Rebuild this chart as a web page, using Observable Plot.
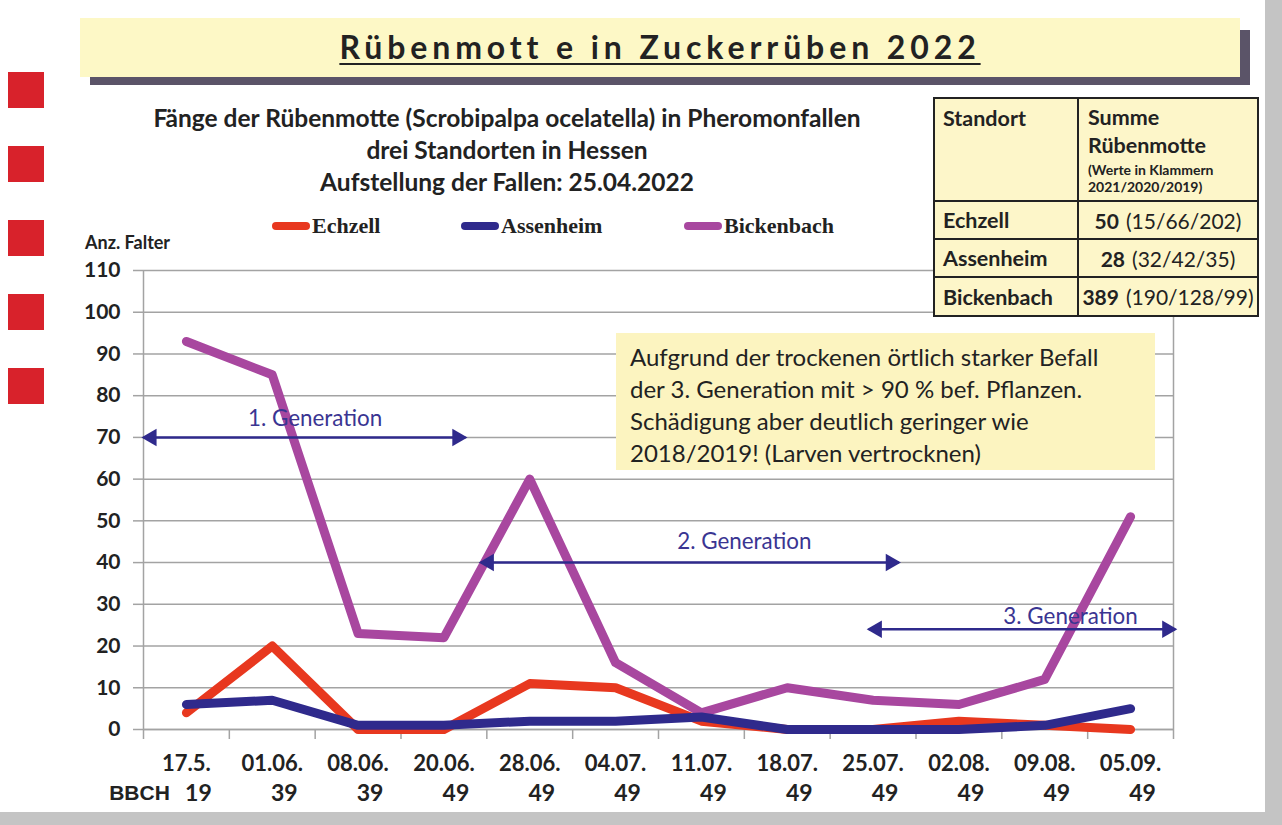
<!DOCTYPE html>
<html><head><meta charset="utf-8">
<script src="https://cdn.jsdelivr.net/npm/d3@7"></script>
<script src="https://cdn.jsdelivr.net/npm/@observablehq/plot@0.6"></script>
<style>
html,body{margin:0;padding:0;background:#fff;}
#page{position:relative;width:1282px;height:825px;overflow:hidden;background:#fff;font-family:Lato,"Open Sans",sans-serif;color:#222;}
#plotwrap{position:absolute;left:0;top:0;}
.abs{position:absolute;}
.sq{position:absolute;left:8px;width:36px;height:36px;background:#d8222b;}
#titleShadow{left:90px;top:30px;width:1160px;height:55px;background:#5b5468;}
#titleBox{left:80px;top:18px;width:1160px;height:59px;background:#fdf8c6;text-align:center;}
#titleBox span{display:inline-block;margin-top:11px;font-weight:700;font-size:32px;line-height:36px;letter-spacing:4.9px;text-decoration:underline;text-decoration-thickness:2px;text-underline-offset:4px;color:#222;}
#subtitle{left:7px;top:102px;width:1000px;text-align:center;font-weight:700;font-size:24.5px;line-height:32px;color:#222;}
#ylabel{left:85px;top:231px;font-weight:700;font-size:18px;color:#222;}
#legend{left:0;top:213px;font-family:"Liberation Serif","Times New Roman",serif;font-weight:700;font-size:22px;color:#222;}
.lg{position:absolute;white-space:nowrap;display:flex;align-items:center;}
.sw{display:inline-block;width:38px;height:8px;border-radius:4px;margin-right:2px;}
#table{left:933px;top:97px;border-collapse:collapse;background:#fdf6c9;color:#222;table-layout:fixed;}
#table td{border:2px solid #222;padding:0 8px;font-size:21.5px;}
#table td b.v{margin-right:7px;}
#note{left:616px;top:333px;width:539px;height:137px;background:#fcf4c0;font-size:24px;line-height:32px;color:#222;box-sizing:border-box;padding:8px 0 0 14px;white-space:nowrap;}
#frameR{right:0;top:0;width:17px;height:825px;background:#c4c4c4;}
#frameB{left:0;bottom:0;width:1282px;height:13px;background:#c4c4c4;}
</style></head>
<body>
<div id="page">
  <div id="plotwrap"></div>
  <div class="sq" style="top:72px"></div>
  <div class="sq" style="top:146px"></div>
  <div class="sq" style="top:220px"></div>
  <div class="sq" style="top:294px"></div>
  <div class="sq" style="top:368px"></div>
  <div id="titleShadow" class="abs"></div>
  <div id="titleBox" class="abs"><span>Rübenmott e in Zuckerrüben 2022</span></div>
  <div id="subtitle" class="abs">Fänge der Rübenmotte (Scrobipalpa ocelatella) in Pheromonfallen<br>drei Standorten in Hessen<br>Aufstellung der Fallen: 25.04.2022</div>
  <div id="ylabel" class="abs">Anz. Falter</div>
  <div id="legend" class="abs"></div>
  <table id="table" class="abs"></table>
  <div id="note" class="abs">Aufgrund der trockenen örtlich starker Befall<br>der 3. Generation mit &gt; 90 % bef. Pflanzen.<br>Schädigung aber deutlich geringer wie<br>2018/2019! (Larven vertrocknen)</div>
  <div id="frameR" class="abs"></div>
  <div id="frameB" class="abs"></div>
</div>
<script>
// ---- data ----
const dates = ["17.5.","01.06.","08.06.","20.06.","28.06.","04.07.","11.07.","18.07.","25.07.","02.08.","09.08.","05.09."];
const bbch = [19,39,39,49,49,49,49,49,49,49,49,49];
const echzell    = [4,20,0,0,11,10,2,0,0,2,1,0];
const assenheim  = [6,7,1,1,2,2,3,0,0,0,1,5];
const bickenbach = [93,85,23,22,60,16,4,10,7,6,12,51];
const seriesNames = ["Echzell","Assenheim","Bickenbach"];
const seriesColors = ["#e8381f","#2f2a8c","#a8479f"];
const yTicks = [0,10,20,30,40,50,60,70,80,90,100,110];
const generations = ["1. Generation","2. Generation","3. Generation"];
const genFrom = [-0.5,3.43,7.95];
const genTo = [3.25,8.30,11.52];
const genLevel = [70,40,24];
const genLabelAt = [1.5,6.5,10.3];
const genLabelLevel = [74.5,45,27];
const sums = [50,28,389];
const earlier = ["15/66/202","32/42/35","190/128/99"];

// ---- table ----
const tbl = document.getElementById("table");
let html = `<colgroup><col style="width:144px"><col style="width:180px"></colgroup>
<tr style="height:103px"><td style="vertical-align:top;padding-top:6px;font-weight:700">Standort</td>
<td style="vertical-align:top;padding-top:4px;padding-left:9px;line-height:28px"><b>Summe<br>Rübenmotte</b><div style="font-size:14px;font-weight:700;line-height:17px;margin-top:2px;white-space:nowrap">(Werte in Klammern<br>2021/2020/2019)</div></td></tr>`;
seriesNames.forEach((n,i)=>{
  html += `<tr style="height:${i==2?39:38}px"><td style="font-weight:700;white-space:nowrap">${n}</td><td style="text-align:center;white-space:nowrap;padding:0 1px;font-size:21px"><b class="v">${sums[i]}</b>(${earlier[i]})</td></tr>`;
});
tbl.innerHTML = html;

// ---- legend ----
const lg = document.getElementById("legend");
const lgX = [272,461,684];
seriesNames.forEach((n,i)=>{
  const d = document.createElement("div");
  d.className="lg"; d.style.left=lgX[i]+"px"; d.style.top="0px";
  d.innerHTML = `<span class="sw" style="background:${seriesColors[i]}"></span>${n}`;
  lg.appendChild(d);
});

// ---- plot ----
const rows = [];
[echzell,assenheim,bickenbach].forEach((arr,s)=>arr.forEach((v,i)=>rows.push({series:seriesNames[s],i,value:v})));
const gens = generations.map((g,k)=>({name:g,from:genFrom[k],to:genTo[k],y:genLevel[k],lx:genLabelAt[k],ly:genLabelLevel[k]}));
const bounds = d3.range(13).map(k=>k-0.5);
const grid = "#a3a3a3";
const arrowCol = "#2f2a8c";
const arial = "'Liberation Sans', Arial, sans-serif";

const chart = Plot.plot({
  width:1282, height:825,
  marginLeft:143, marginRight:109, marginTop:270, marginBottom:96,
  style:{fontFamily:"Lato, 'Open Sans', sans-serif", background:"transparent", overflow:"visible"},
  x:{type:"linear", domain:[-0.5,11.5]},
  y:{domain:[0,110]},
  marks:[
    Plot.gridY(yTicks,{stroke:grid, strokeOpacity:1, strokeWidth:1.5}),
    Plot.axisY(yTicks,{tickSize:10, tickFormat:()=>"", label:null, stroke:grid, strokeWidth:1.5}),
    Plot.axisX(bounds,{tickSize:10, tickFormat:()=>"", label:null, stroke:grid, strokeWidth:1.5}),
    Plot.ruleX([-0.5,11.5],{stroke:grid, strokeWidth:1.5}),
    Plot.ruleY([0],{stroke:grid, strokeWidth:1.5}),
    Plot.text(yTicks,{x:-0.5, y:d=>d, text:d=>String(d), textAnchor:"end", dx:-23, fontSize:21, fontWeight:"bold", fill:"#222"}),
    Plot.text(dates,{x:(d,i)=>i, y:0, text:d=>d, dy:34, fontSize:22, fontWeight:"bold", fill:"#222"}),
    Plot.text(bbch,{x:(d,i)=>i, y:0, text:d=>String(d), dy:64, dx:12, fontSize:23, fontWeight:"bold", fill:"#222"}),
    Plot.text(["BBCH"],{x:-0.5, y:0, text:d=>d, dy:64, dx:-4, fontSize:21, fontWeight:"bold", fontFamily:arial, fill:"#222"}),
    Plot.line(rows.filter(r=>r.series==="Echzell"),{x:"i", y:"value", stroke:seriesColors[0], strokeWidth:9, strokeLinejoin:"round"}),
    Plot.line(rows.filter(r=>r.series==="Bickenbach"),{x:"i", y:"value", stroke:seriesColors[2], strokeWidth:9, strokeLinejoin:"round"}),
    Plot.line(rows.filter(r=>r.series==="Assenheim"),{x:"i", y:"value", stroke:seriesColors[1], strokeWidth:9, strokeLinejoin:"round"}),
    Plot.link(gens,{x1:"from", x2:"to", y1:"y", y2:"y", stroke:arrowCol, strokeWidth:2.5}),
    Plot.dot(gens,{x:"from", y:"y", dx:8, symbol:"triangle", rotate:-90, r:6.5, fill:arrowCol, stroke:"none"}),
    Plot.dot(gens,{x:"to", y:"y", dx:-8, symbol:"triangle", rotate:90, r:6.5, fill:arrowCol, stroke:"none"}),
    Plot.text(gens,{x:"lx", y:"ly", text:"name", fill:"#3a3592", fontSize:22.4})
  ]
});
document.getElementById("plotwrap").appendChild(chart);
</script>
</body></html>
